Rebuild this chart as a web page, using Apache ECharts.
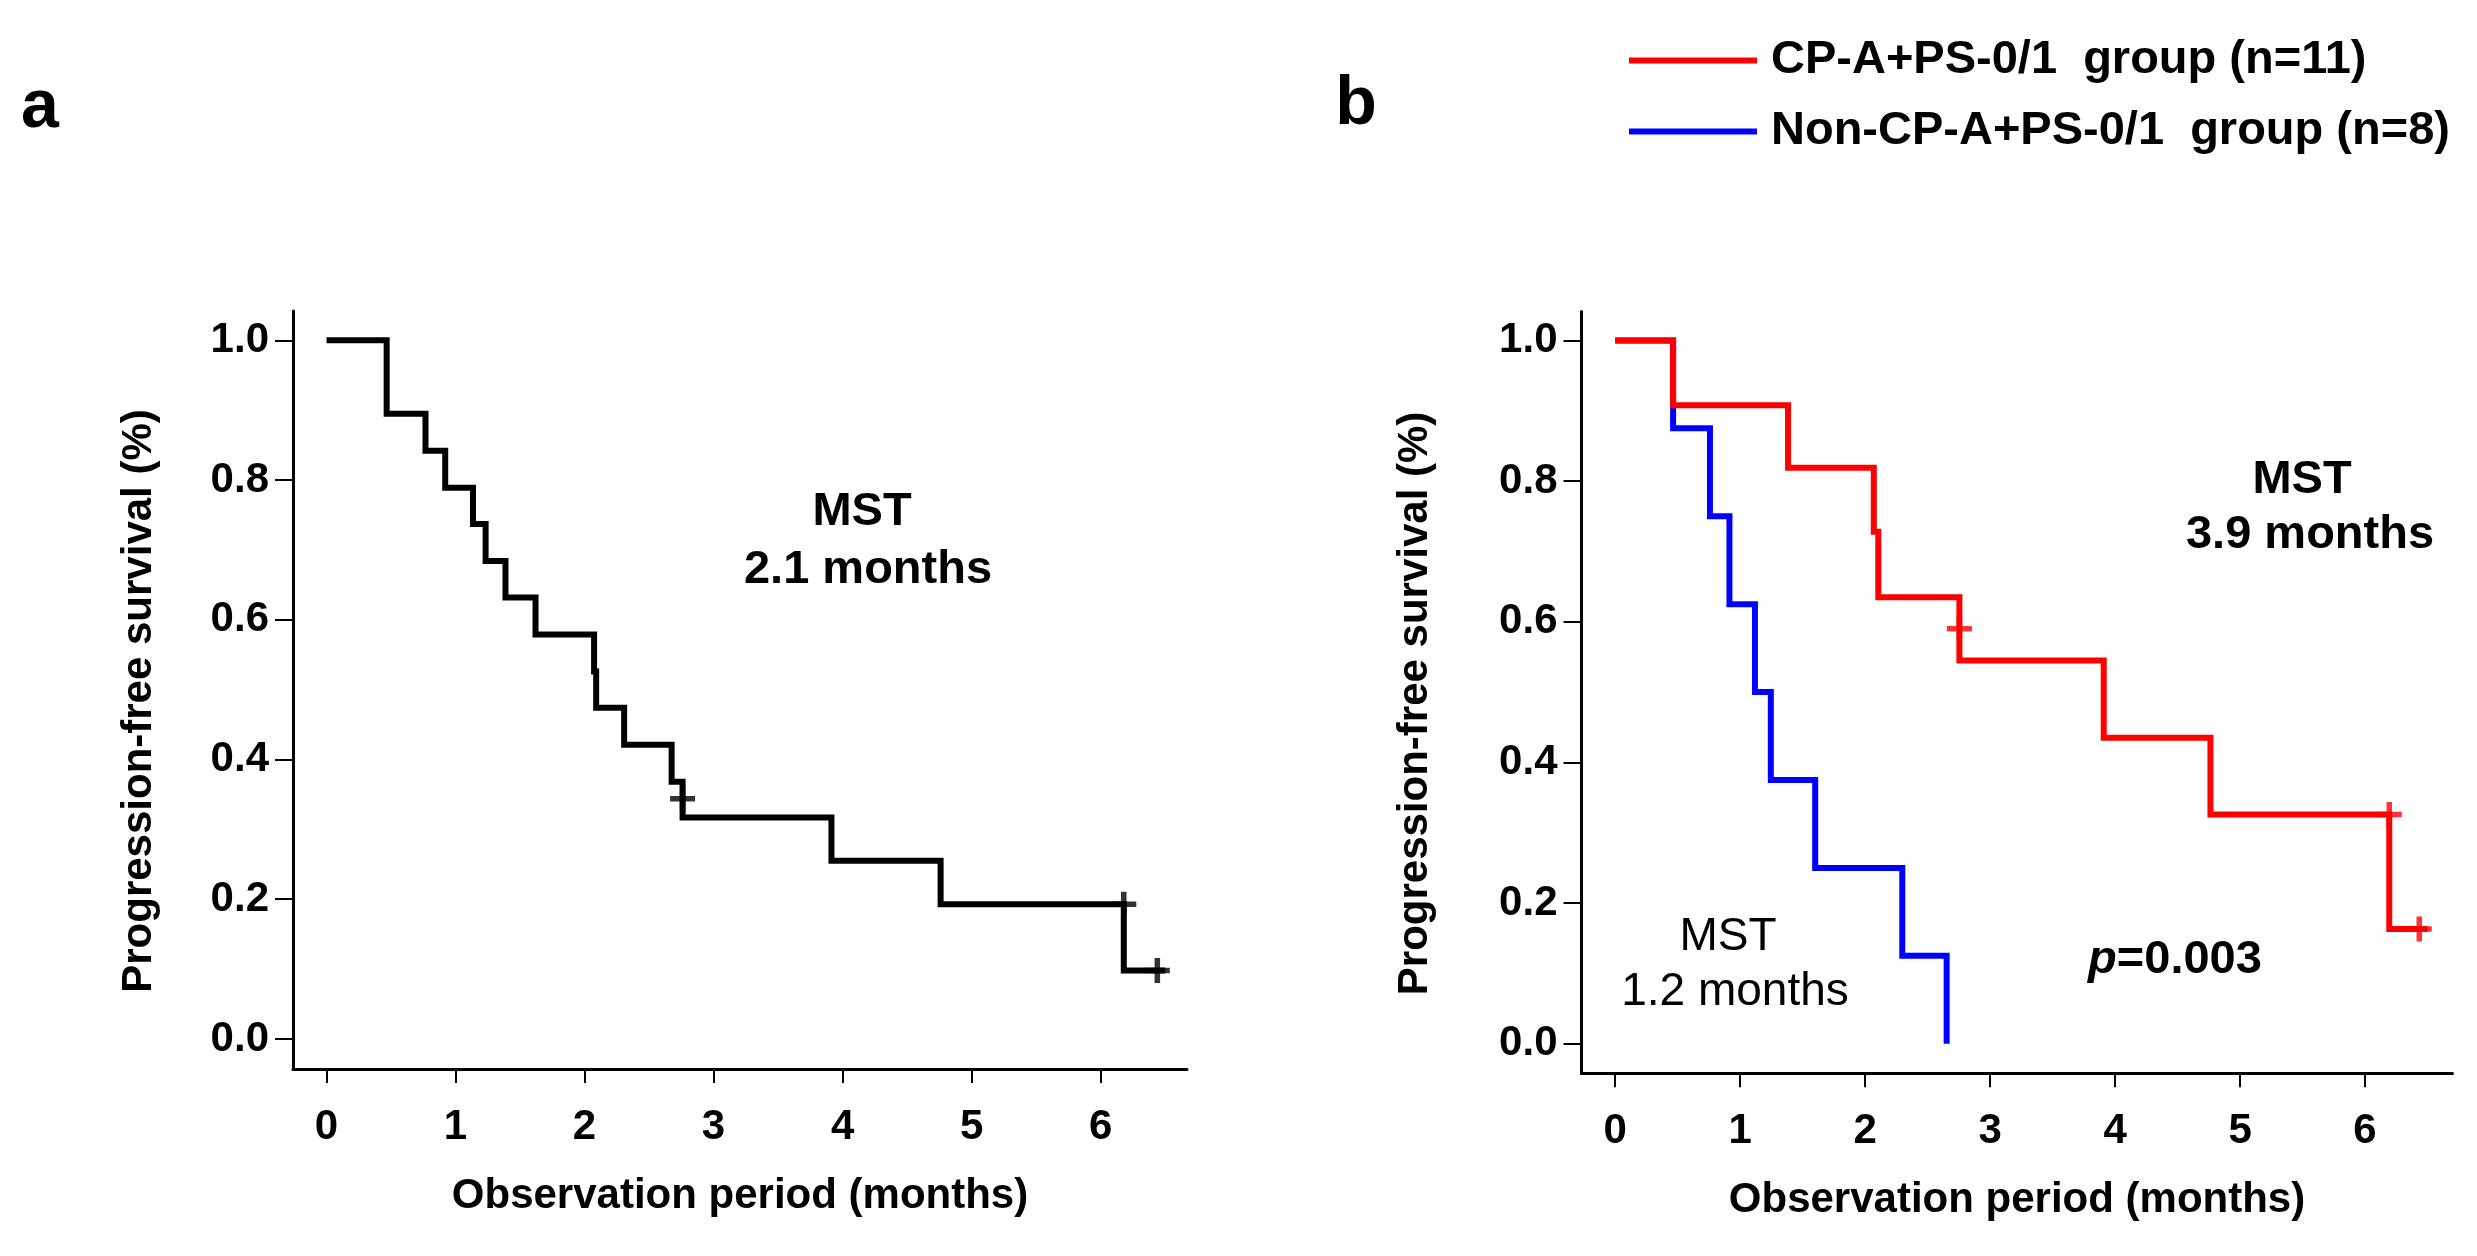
<!DOCTYPE html>
<html>
<head>
<meta charset="utf-8">
<script src="https://cdn.jsdelivr.net/npm/echarts@6/dist/echarts.min.js"></script>
<style>
html,body{margin:0;padding:0;background:#fff;}
#chart{width:2477px;height:1256px;}
</style>
</head>
<body>
<div id="chart"></div>
<script>
// ---- Data ----
// Panel a: all patients (n=19)
const timesA = [0, 0.466, 0.767, 0.92, 1.135, 1.233, 1.387, 1.62, 2.074, 2.09, 2.307, 2.675, 2.76, 3.914, 4.76, 6.18, 6.5];
const survA  = [1, 0.895, 0.842, 0.789, 0.737, 0.684, 0.632, 0.579, 0.526, 0.474, 0.421, 0.368, 0.317, 0.255, 0.193, 0.098, 0.098];
const censorTimesA = [2.76, 6.18, 6.44];
const censorSurvA  = [0.344, 0.193, 0.098];

// Panel b: CP-A+PS-0/1 group (n=11)
const timesRed = [0, 0.463, 1.383, 2.069, 2.105, 2.754, 3.909, 4.763, 6.194, 6.5];
const survRed  = [1, 0.908, 0.819, 0.728, 0.635, 0.545, 0.435, 0.326, 0.163, 0.163];
const censorTimesRed = [2.754, 6.194, 6.434];
const censorSurvRed  = [0.590, 0.326, 0.163];

// Panel b: Non-CP-A+PS-0/1 group (n=8)
const timesBlue = [0, 0.463, 0.758, 0.914, 1.118, 1.245, 1.6, 2.297, 2.652];
const survBlue  = [1, 0.875, 0.75, 0.625, 0.5, 0.375, 0.25, 0.125, 0];

const xTicks = [0, 1, 2, 3, 4, 5, 6];
const yTicks = [0, 0.2, 0.4, 0.6, 0.8, 1.0];

const nameRed = 'CP-A+PS-0/1  group (n=11)';
const nameBlue = 'Non-CP-A+PS-0/1  group (n=8)';
const xTitle = 'Observation period (months)';
const yTitle = 'Progression-free survival (%)';

// ---- helpers ----
const zip = (a, b) => a.map((v, i) => [v, b[i]]);
const FONT = "'Liberation Sans', Arial, Helvetica, sans-serif";
const crossPath = 'path://M3.9,0 H6.1 V3.9 H10 V6.1 H6.1 V10 H3.9 V6.1 H0 V3.9 H3.9 Z';

function xAxisCfg(gridIndex, min, max) {
  return {
    type: 'value', gridIndex, min, max,
    splitLine: {show: false},
    axisLine: {show: true, onZero: false, lineStyle: {color: '#000', width: 3}},
    axisTick: {show: true, customValues: xTicks, length: 14, lineStyle: {color: '#000', width: 2}},
    axisLabel: {customValues: xTicks, formatter: v => String(Math.round(v)), margin: 37,
      color: '#000', fontWeight: 'bold', fontSize: 42, fontFamily: FONT},
    name: xTitle, nameLocation: 'middle', nameGap: 106,
    nameTextStyle: {color: '#000', fontWeight: 'bold', fontSize: 42, fontFamily: FONT}
  };
}
function yAxisCfg(gridIndex, min, max, gap) {
  return {
    type: 'value', gridIndex, min, max,
    splitLine: {show: false},
    axisLine: {show: true, onZero: false, lineStyle: {color: '#000', width: 3}},
    axisTick: {show: true, customValues: yTicks, length: 18, lineStyle: {color: '#000', width: 2}},
    axisLabel: {customValues: yTicks, formatter: v => v.toFixed(1), margin: 24,
      padding: [30, 0, 0, 0],
      color: '#000', fontWeight: 'bold', fontSize: 42, fontFamily: FONT},
    name: yTitle, nameLocation: 'middle', nameGap: gap,
    nameTextStyle: {color: '#000', fontWeight: 'bold', fontSize: 42, fontFamily: FONT, padding: [0, 22, 0, 0]}
  };
}
function lineSeries(name, xi, color, data, z) {
  return {
    name, type: 'line', xAxisIndex: xi, yAxisIndex: xi, step: 'end',
    data, showSymbol: false, symbol: 'none', z,
    lineStyle: {color, width: 6, join: 'miter', cap: 'butt'},
    itemStyle: {color}, emphasis: {disabled: true}
  };
}
function censorSeries(xi, color, data) {
  return {
    type: 'scatter', xAxisIndex: xi, yAxisIndex: xi, data, z: 10,
    symbol: crossPath, symbolSize: [25, 25],
    itemStyle: {color}, emphasis: {disabled: true}, silent: true
  };
}
function txt(x, y, text, size, weight, extra) {
  return Object.assign({
    type: 'text', x, y,
    style: {text, fill: '#000', font: `${weight} ${size}px ${FONT}`, align: 'center', verticalAlign: 'middle'}
  }, extra || {});
}

const chart = echarts.init(document.getElementById('chart'));
chart.setOption({
  animation: false,
  backgroundColor: '#fff',
  grid: [
    {left: 293, top: 311, width: 894, height: 758},
    {left: 1581.5, top: 311.6, width: 871, height: 761.7}
  ],
  xAxis: [xAxisCfg(0, -0.26, 6.67), xAxisCfg(1, -0.27, 6.70)],
  yAxis: [yAxisCfg(0, -0.043, 1.042, 133), yAxisCfg(1, -0.042, 1.041, 145)],
  legend: {
    data: [nameRed, nameBlue],
    orient: 'vertical', left: 1624, top: 30,
    itemWidth: 128, itemHeight: 6, itemGap: 20, icon: 'rect',
    selectedMode: false,
    textStyle: {color: '#000', fontWeight: 'bold', fontSize: 47, fontFamily: FONT, lineHeight: 51, padding: [0, 0, 0, 9]}
  },
  series: [
    lineSeries('All patients', 0, '#000000', zip(timesA, survA), 3),
    censorSeries(0, '#000000', zip(censorTimesA, censorSurvA)),
    lineSeries(nameBlue, 1, '#0000ff', zip(timesBlue, survBlue), 3),
    lineSeries(nameRed, 1, '#ff0000', zip(timesRed, survRed), 4),
    censorSeries(1, '#ff0000', zip(censorTimesRed, censorSurvRed))
  ],
  graphic: [
    txt(40, 108, 'a', 68, 'bold'),
    txt(1356, 105, 'b', 68, 'bold'),
    txt(862, 512, 'MST', 47, 'bold'),
    txt(868, 570, '2.1 months', 47, 'bold'),
    txt(2302, 480, 'MST', 47, 'bold'),
    txt(2310, 535, '3.9 months', 47, 'bold'),
    txt(1728, 937, 'MST', 46, 'normal'),
    txt(1735, 992, '1.2 months', 46, 'normal'),
    {
      type: 'text', x: 2175, y: 960,
      style: {
        text: '{p|p}{r|=0.003}', align: 'center', verticalAlign: 'middle',
        rich: {
          p: {fontStyle: 'italic', fontWeight: 'bold', fontSize: 47, fontFamily: FONT, fill: '#000'},
          r: {fontWeight: 'bold', fontSize: 47, fontFamily: FONT, fill: '#000'}
        }
      }
    }
  ]
});
</script>
</body>
</html>
